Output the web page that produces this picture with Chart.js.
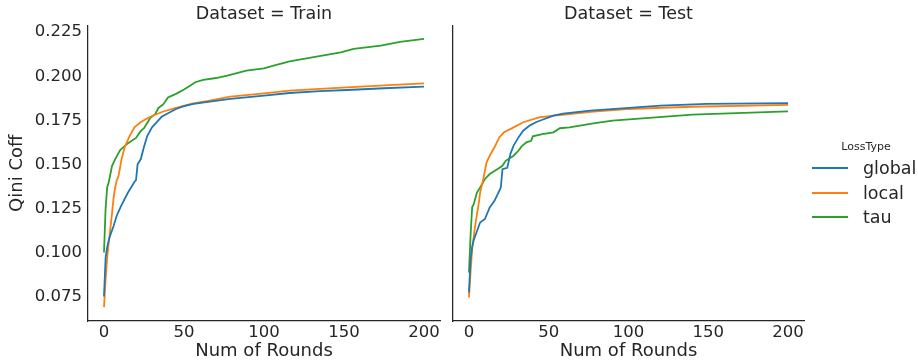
<!DOCTYPE html>
<html>
<head>
<meta charset="utf-8">
<script src="https://cdn.jsdelivr.net/npm/chart.js@4/dist/chart.umd.min.js"></script>
<style>
  html, body { margin: 0; padding: 0; background: #ffffff; }
  body { width: 918px; height: 362px; position: relative; overflow: hidden; font-family: "DejaVu Sans", sans-serif; color: #262626; }
  .panel { position: absolute; top: 0; height: 362px; }
  #p1 { left: 0; width: 450px; }
  #p2 { left: 450px; width: 468px; }
  #legend { position: absolute; left: 808px; top: 136px; width: 110px; }
  #legend .title { position: absolute; left: 0; width: 116px; text-align: center; top: 2px; font-size: 11px; line-height: 18px; }
  #legend .item { position: absolute; left: 4px; height: 24px; }
  #legend .sw { position: absolute; left: 0; top: 11px; width: 36px; height: 0; border-top: 2px solid; }
  #legend .lbl { position: absolute; left: 51px; top: 0; font-size: 17.5px; line-height: 24px; white-space: nowrap; }
</style>
</head>
<body>
<div class="panel" id="p1"><canvas id="c1"></canvas></div>
<div class="panel" id="p2"><canvas id="c2"></canvas></div>
<div id="legend"></div>
<script>
// ---- data ----
const panelTitles = ["Dataset = Train", "Dataset = Test"];
const lossTypes = ["global", "local", "tau"];
const lossColors = ["#1f77b4", "#ff7f0e", "#2ca02c"];
const yTickValues = [0.075, 0.100, 0.125, 0.150, 0.175, 0.200, 0.225];
const xTickValues = [0, 50, 100, 150, 200];

// Train
const trainGlobalRounds = [0,1,2,3,4,6,8,11,15,19,20,21,23,25,27,30,33,36,40,45,50,56,65,79,100,116,135,152,175,200];
const trainGlobalQini   = [0.075,0.097,0.103,0.107,0.110,0.115,0.121,0.127,0.134,0.140,0.141,0.150,0.153,0.160,0.166,0.171,0.174,0.177,0.179,0.1814,0.183,0.1843,0.1855,0.1871,0.1890,0.1905,0.1915,0.1922,0.1932,0.1941];
const trainLocalRounds  = [0,1,2,3,4,5,6,7,8,9,10,11,13,16,19,23,29,37,45,55,65,79,100,116,135,152,175,200];
const trainLocalQini    = [0.069,0.085,0.097,0.106,0.114,0.122,0.131,0.137,0.141,0.143,0.148,0.153,0.160,0.166,0.171,0.174,0.177,0.180,0.182,0.1845,0.186,0.1884,0.1903,0.1918,0.1928,0.1937,0.1948,0.1960];
const trainTauRounds    = [0,1,2,3,5,7,10,13,15,20,23,25,27,29,32,34,37,40,45,50,54,57,62,70,77,89,100,106,116,131,148,156,173,185,200];
const trainTauQini      = [0.100,0.125,0.137,0.140,0.149,0.153,0.158,0.1605,0.162,0.165,0.169,0.1705,0.1735,0.1765,0.1785,0.182,0.184,0.188,0.190,0.1925,0.1947,0.1966,0.1980,0.1990,0.2003,0.2032,0.2045,0.2060,0.2085,0.2108,0.2136,0.2155,0.2174,0.2195,0.2212];

// Test
const testGlobalRounds = [0,1,2,3,5,7,10,13,16,19,20,21,24,26,28,31,34,38,42,46,53,59,76,96,120,149,200];
const testGlobalQini   = [0.0773,0.096,0.103,0.107,0.112,0.117,0.119,0.1256,0.1293,0.135,0.137,0.1473,0.148,0.156,0.1606,0.1653,0.1691,0.172,0.1739,0.1753,0.1776,0.1788,0.1805,0.1818,0.1833,0.1843,0.1847];
const testLocalRounds  = [0,1,2,4,6,7,9,11,13,16,19,22,28,34,44,53,57,78,99,140,200];
const testLocalQini    = [0.0744,0.0886,0.102,0.116,0.127,0.134,0.1417,0.151,0.1549,0.1597,0.1653,0.1682,0.171,0.1739,0.1767,0.1776,0.178,0.1799,0.1814,0.1827,0.1837];
const testTauRounds    = [0,1,2,3,5,7,10,13,18,21,23,28,31,33,36,39,40,46,53,57,63,78,90,115,140,200];
const testTauQini      = [0.0886,0.1094,0.1256,0.1274,0.134,0.1369,0.1417,0.1445,0.1473,0.1492,0.152,0.1549,0.1577,0.1602,0.1625,0.1634,0.1659,0.1672,0.1682,0.1705,0.171,0.1732,0.1748,0.1765,0.1782,0.1801];

const panelSeries = [
  [[trainGlobalRounds, trainGlobalQini], [trainLocalRounds, trainLocalQini], [trainTauRounds, trainTauQini]],
  [[testGlobalRounds, testGlobalQini], [testLocalRounds, testLocalQini], [testTauRounds, testTauQini]]
];

// ---- chart construction ----
const FONT = "DejaVu Sans";
const INK = "#262626";
Chart.defaults.font.family = FONT;
Chart.defaults.color = INK;

function makeDatasets(series) {
  return series.map(([rounds, vals], i) => ({
    label: lossTypes[i],
    data: rounds.map((r, k) => ({ x: r, y: vals[k] })),
    borderColor: lossColors[i],
    backgroundColor: lossColors[i],
    borderWidth: 1.8,
    pointRadius: 0,
    tension: 0,
    fill: false
  }));
}

function makeChart(canvasId, panelIdx, opts) {
  return new Chart(document.getElementById(canvasId), {
    type: 'line',
    data: { datasets: makeDatasets(panelSeries[panelIdx]) },
    options: {
      responsive: true,
      maintainAspectRatio: false,
      animation: false,
      devicePixelRatio: 1,
      layout: { padding: { left: 0, right: opts.padRight, top: 0, bottom: 0 } },
      plugins: {
        legend: { display: false },
        tooltip: { enabled: false },
        title: {
          display: true,
          text: panelTitles[panelIdx],
          fullSize: false,
          color: INK,
          font: { family: FONT, size: 17.5, weight: 'normal' },
          padding: { top: 4, bottom: 0.5 }
        }
      },
      scales: {
        x: {
          type: 'linear',
          min: -10, max: 210,
          grid: { display: false, drawTicks: false },
          border: { display: true, color: INK, width: 1.25 },
          afterBuildTicks: (s) => { s.ticks = xTickValues.map(v => ({ value: v })); },
          afterFit: (s) => { s.height = 41; },
          ticks: { color: INK, font: { family: FONT, size: 16.5 }, padding: 2, maxRotation: 0 },
          title: { display: true, text: 'Num of Rounds', color: INK, font: { family: FONT, size: 18 }, padding: { top: 0, bottom: 0 } }
        },
        y: {
          type: 'linear',
          min: 0.0611, max: 0.2288,
          grid: { display: false, drawTicks: false },
          border: { display: true, color: INK, width: 1.25 },
          afterBuildTicks: (s) => { s.ticks = yTickValues.map(v => ({ value: v })); },
          afterFit: (s) => { s.width = opts.yWidth; },
          ticks: { display: opts.showY, color: INK, font: { family: FONT, size: 16.5 }, padding: 6,
                   callback: (v) => Number(v).toFixed(3) },
          title: { display: opts.showY, text: 'Qini Coff', color: INK, font: { family: FONT, size: 18 }, padding: { top: 7, bottom: 0 } }
        }
      }
    }
  });
}

makeChart('c1', 0, { yWidth: 88, padRight: 10, showY: true });
makeChart('c2', 1, { yWidth: 3, padRight: 114, showY: false });

// ---- legend (HTML text) ----
const lg = document.getElementById('legend');
const t = document.createElement('div');
t.className = 'title'; t.textContent = 'LossType';
lg.appendChild(t);
lossTypes.forEach((name, i) => {
  const it = document.createElement('div');
  it.className = 'item';
  it.style.top = (20 + i * 24.5) + 'px';
  const sw = document.createElement('div');
  sw.className = 'sw'; sw.style.borderColor = lossColors[i];
  const lb = document.createElement('div');
  lb.className = 'lbl'; lb.textContent = name;
  it.appendChild(sw); it.appendChild(lb);
  lg.appendChild(it);
});
</script>
</body>
</html>
